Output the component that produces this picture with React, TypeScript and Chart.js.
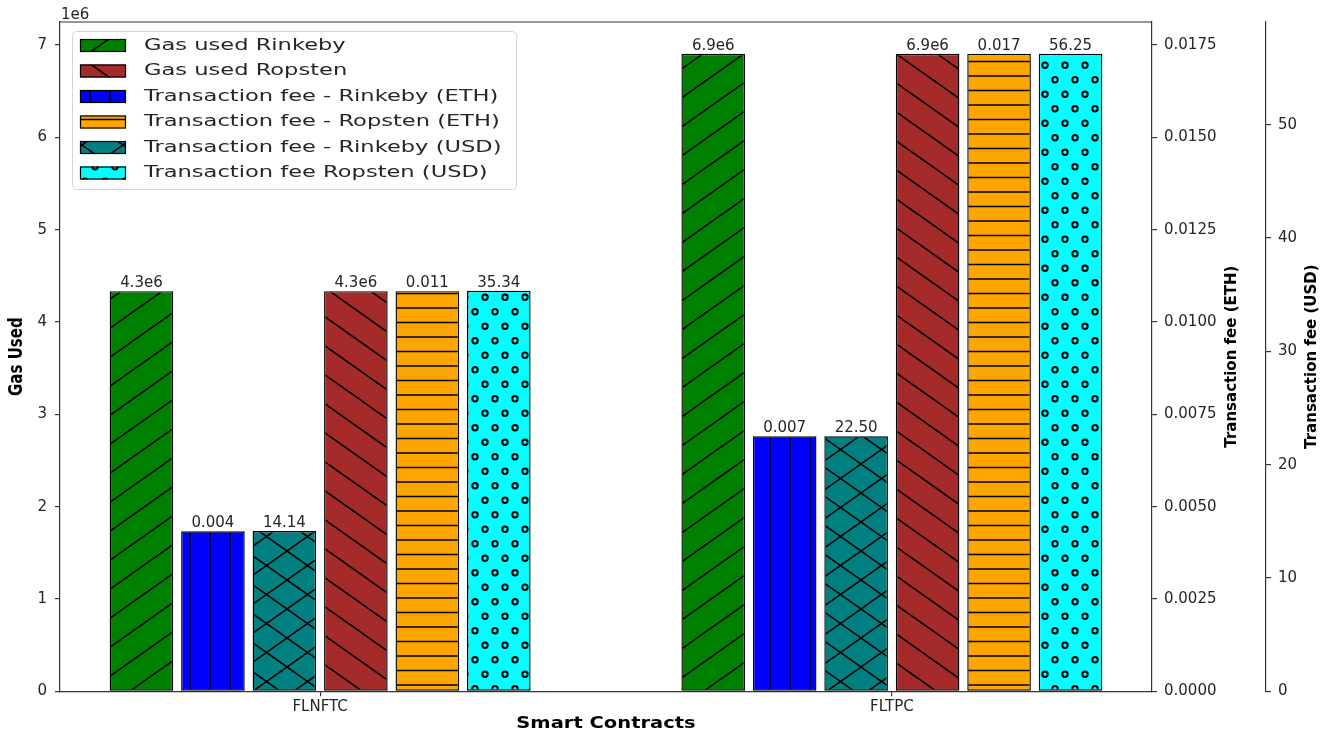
import React, { useEffect, useRef } from 'react';
import { Chart, registerables } from 'chart.js';

Chart.register(...registerables);

// ---- data ----
const categories = ['FLNFTC', 'FLTPC'];
const gasUsedRinkeby = [4334000, 6905000];
const gasUsedRopsten = [4334000, 6905000];
const feeEthRinkeby = [0.004334, 0.006905];
const feeEthRopsten = [0.010835, 0.017263];
const feeUsdRinkeby = [14.14, 22.5];
const feeUsdRopsten = [35.34, 56.25];

const gasTickValues = [0, 1e6, 2e6, 3e6, 4e6, 5e6, 6e6, 7e6];
const ethTickValues = [0, 0.0025, 0.005, 0.0075, 0.01, 0.0125, 0.015, 0.0175];
const usdTickValues = [0, 10, 20, 30, 40, 50];

const gasMax = 7.25e6;
const ethMax = 0.018125;
const usdMax = 59.06;
const xMin = -0.455;
const xMax = 1.455;

const FONT = 'DejaVu Sans';
const TEXT = '#262626';
const SPINE = '#333333';

type Kind = '/' | '\\' | '|' | '-' | 'x' | 'o';

function makePattern(ctx: CanvasRenderingContext2D, bg: string, kind: Kind): CanvasPattern {
  const c = document.createElement('canvas');
  let w = 41;
  const h = 29;
  if (kind === '|' || kind === 'o') w = 20;
  if (kind === '-') w = 10;
  c.width = w;
  c.height = h;
  const g = c.getContext('2d')!;
  g.fillStyle = bg;
  g.fillRect(0, 0, w, h);
  g.strokeStyle = '#000';
  g.lineWidth = 1.5;
  g.beginPath();
  if (kind === '/' || kind === 'x') {
    for (const k of [-1, 0, 1]) {
      g.moveTo(0, h + k * h);
      g.lineTo(w, k * h);
    }
  }
  if (kind === '\\' || kind === 'x') {
    for (const k of [-1, 0, 1]) {
      g.moveTo(0, k * h);
      g.lineTo(w, h + k * h);
    }
  }
  if (kind === '|') {
    g.moveTo(10, 0);
    g.lineTo(10, h);
  }
  if (kind === '-') {
    for (const y of [3.6, 18.1]) {
      g.moveTo(0, y);
      g.lineTo(w, y);
    }
  }
  g.stroke();
  if (kind === 'o') {
    g.lineWidth = 2;
    for (const [cx, cy] of [[5, 7.25], [15, 21.75]]) {
      g.beginPath();
      g.arc(cx, cy, 2.7, 0, Math.PI * 2);
      g.stroke();
    }
  }
  return ctx.createPattern(c, 'repeat')!;
}

const fmtGas = (v: number) => (v / 1e6).toFixed(1) + 'e6';
const fmtEth = (v: number) => v.toFixed(3);
const fmtUsd = (v: number) => v.toFixed(2);

export default function App() {
  const ref = useRef<HTMLCanvasElement>(null);

  useEffect(() => {
    document.body.style.margin = '0';
    const canvas = ref.current!;
    const ctx0 = canvas.getContext('2d')!;

    const series = [
      { label: 'Gas used Rinkeby', values: gasUsedRinkeby, axis: 'y', color: 'green', kind: '/' as Kind, fmt: fmtGas },
      { label: 'Transaction fee - Rinkeby (ETH)', values: feeEthRinkeby, axis: 'y1', color: 'blue', kind: '|' as Kind, fmt: fmtEth },
      { label: 'Transaction fee - Rinkeby (USD)', values: feeUsdRinkeby, axis: 'y2', color: 'teal', kind: 'x' as Kind, fmt: fmtUsd },
      { label: 'Gas used Ropsten', values: gasUsedRopsten, axis: 'y', color: 'brown', kind: '\\' as Kind, fmt: fmtGas },
      { label: 'Transaction fee - Ropsten (ETH)', values: feeEthRopsten, axis: 'y1', color: 'orange', kind: '-' as Kind, fmt: fmtEth },
      { label: 'Transaction fee Ropsten (USD)', values: feeUsdRopsten, axis: 'y2', color: 'cyan', kind: 'o' as Kind, fmt: fmtUsd },
    ];
    const legendOrder = [0, 3, 1, 4, 2, 5];

    const patterns = series.map((s) => makePattern(ctx0, s.color, s.kind));

    const datasets = series.map((s, i) => ({
      label: s.label,
      data: s.values.map((v, j) => ({ x: j, y: v })),
      yAxisID: s.axis,
      backgroundColor: patterns[i],
      borderColor: '#000',
      borderWidth: 1.4,
      borderSkipped: false as const,
      categoryPercentage: 0.75,
      barPercentage: 0.89,
    }));

    const valueLabels = {
      id: 'valueLabels',
      afterDatasetsDraw(chart: any) {
        const ctx = chart.ctx;
        ctx.save();
        ctx.font = `15px "${FONT}"`;
        ctx.fillStyle = TEXT;
        ctx.textAlign = 'center';
        ctx.textBaseline = 'alphabetic';
        series.forEach((s, i) => {
          const meta = chart.getDatasetMeta(i);
          meta.data.forEach((bar: any, j: number) => {
            ctx.fillText(s.fmt(s.values[j]), bar.x, bar.y - 4);
          });
        });
        ctx.restore();
      },
    };

    const decorations = {
      id: 'decorations',
      afterDraw(chart: any) {
        const ctx = chart.ctx;
        const ca = chart.chartArea;
        ctx.save();
        // top spine
        ctx.strokeStyle = SPINE;
        ctx.lineWidth = 1.2;
        ctx.beginPath();
        ctx.moveTo(ca.left, ca.top);
        ctx.lineTo(ca.right, ca.top);
        ctx.stroke();

        // offset text
        ctx.fillStyle = TEXT;
        ctx.font = `15px "${FONT}"`;
        ctx.textAlign = 'left';
        ctx.textBaseline = 'alphabetic';
        ctx.fillText('1e6', ca.left + 1, 18.5);

        // axis titles
        const drawRot = (text: string, x: number, y: number, sy: number) => {
          ctx.save();
          ctx.translate(x, y);
          ctx.rotate(-Math.PI / 2);
          ctx.scale(1, sy);
          ctx.font = `bold 15px "${FONT}"`;
          ctx.textAlign = 'center';
          ctx.textBaseline = 'middle';
          ctx.fillStyle = '#000';
          ctx.fillText(text, 0, 0);
          ctx.restore();
        };
        const midY = (ca.top + ca.bottom) / 2;
        drawRot('Gas Used', 17, midY, 1.25);
        drawRot('Transaction fee (ETH)', 1232, midY, 1);
        drawRot('Transaction fee (USD)', 1312, midY, 1);

        ctx.save();
        ctx.translate((ca.left + ca.right) / 2, 724);
        ctx.scale(1.3, 1);
        ctx.font = `bold 15px "${FONT}"`;
        ctx.textAlign = 'center';
        ctx.textBaseline = 'middle';
        ctx.fillStyle = '#000';
        ctx.fillText('Smart Contracts', 0, 0);
        ctx.restore();

        // legend
        const bx = 72.5, by = 31.5, bw = 444, bh = 158;
        ctx.beginPath();
        ctx.roundRect(bx, by, bw, bh, 4);
        ctx.fillStyle = 'rgba(255,255,255,0.8)';
        ctx.fill();
        ctx.strokeStyle = '#d4d4d4';
        ctx.lineWidth = 1;
        ctx.stroke();
        legendOrder.forEach((di, r) => {
          const cy = 45.5 + r * 25.5;
          ctx.fillStyle = patterns[di];
          ctx.fillRect(80, cy - 6.5, 46, 13);
          ctx.strokeStyle = '#000';
          ctx.lineWidth = 1.2;
          ctx.strokeRect(80.5, cy - 6, 45, 12);
          ctx.save();
          ctx.translate(144, cy);
          ctx.scale(1.41, 1);
          ctx.font = `16px "${FONT}"`;
          ctx.fillStyle = TEXT;
          ctx.textAlign = 'left';
          ctx.textBaseline = 'middle';
          ctx.fillText(series[di].label, 0, 0);
          ctx.restore();
        });
        ctx.restore();
      },
    };

    const tickFont = { family: FONT, size: 15 };
    const gridOpts = { display: true, drawOnChartArea: false, drawTicks: true, tickLength: 5, color: SPINE, lineWidth: 1.2 };
    const borderOpts = { display: true, color: SPINE, width: 1.2 };

    const chart = new Chart(canvas, {
      type: 'bar',
      data: { datasets: datasets as any },
      plugins: [valueLabels, decorations],
      options: {
        responsive: false,
        animation: false,
        devicePixelRatio: 1,
        layout: { padding: { top: 22, left: 0, right: 0, bottom: 0 } },
        plugins: { legend: { display: false }, tooltip: { enabled: false } },
        scales: {
          x: {
            type: 'linear',
            position: 'bottom',
            offset: false,
            min: xMin,
            max: xMax,
            afterBuildTicks: (s: any) => {
              s.ticks = categories.map((_, i) => ({ value: i }));
            },
            afterFit: (s: any) => {
              s.height = 44.7;
            },
            ticks: {
              font: tickFont,
              color: TEXT,
              padding: 2,
              autoSkip: false,
              maxRotation: 0,
              callback: (v: any) => categories[v as number] ?? '',
            },
            grid: { ...gridOpts, offset: false },
            border: borderOpts,
          },
          y: {
            type: 'linear',
            position: 'left',
            min: 0,
            max: gasMax,
            afterBuildTicks: (s: any) => {
              s.ticks = gasTickValues.map((v) => ({ value: v }));
            },
            afterFit: (s: any) => {
              s.width = 60;
            },
            ticks: { font: tickFont, color: TEXT, padding: 8, callback: (v: any) => String(Math.round((v as number) / 1e6)) },
            grid: gridOpts,
            border: borderOpts,
          },
          y1: {
            type: 'linear',
            position: 'right',
            min: 0,
            max: ethMax,
            afterBuildTicks: (s: any) => {
              s.ticks = ethTickValues.map((v) => ({ value: v }));
            },
            afterFit: (s: any) => {
              s.width = 114;
            },
            ticks: { font: tickFont, color: TEXT, padding: 7, callback: (v: any) => (v as number).toFixed(4) },
            grid: gridOpts,
            border: borderOpts,
          },
          y2: {
            type: 'linear',
            position: 'right',
            min: 0,
            max: usdMax,
            afterBuildTicks: (s: any) => {
              s.ticks = usdTickValues.map((v) => ({ value: v }));
            },
            afterFit: (s: any) => {
              s.width = 74;
            },
            ticks: { font: tickFont, color: TEXT, padding: 7, callback: (v: any) => String(v) },
            grid: gridOpts,
            border: borderOpts,
          },
        },
      } as any,
    });

    return () => chart.destroy();
  }, []);

  return (
    <div style={{ width: 1340, height: 736 }}>
      <canvas ref={ref} width={1340} height={736} style={{ display: 'block' }} />
    </div>
  );
}
